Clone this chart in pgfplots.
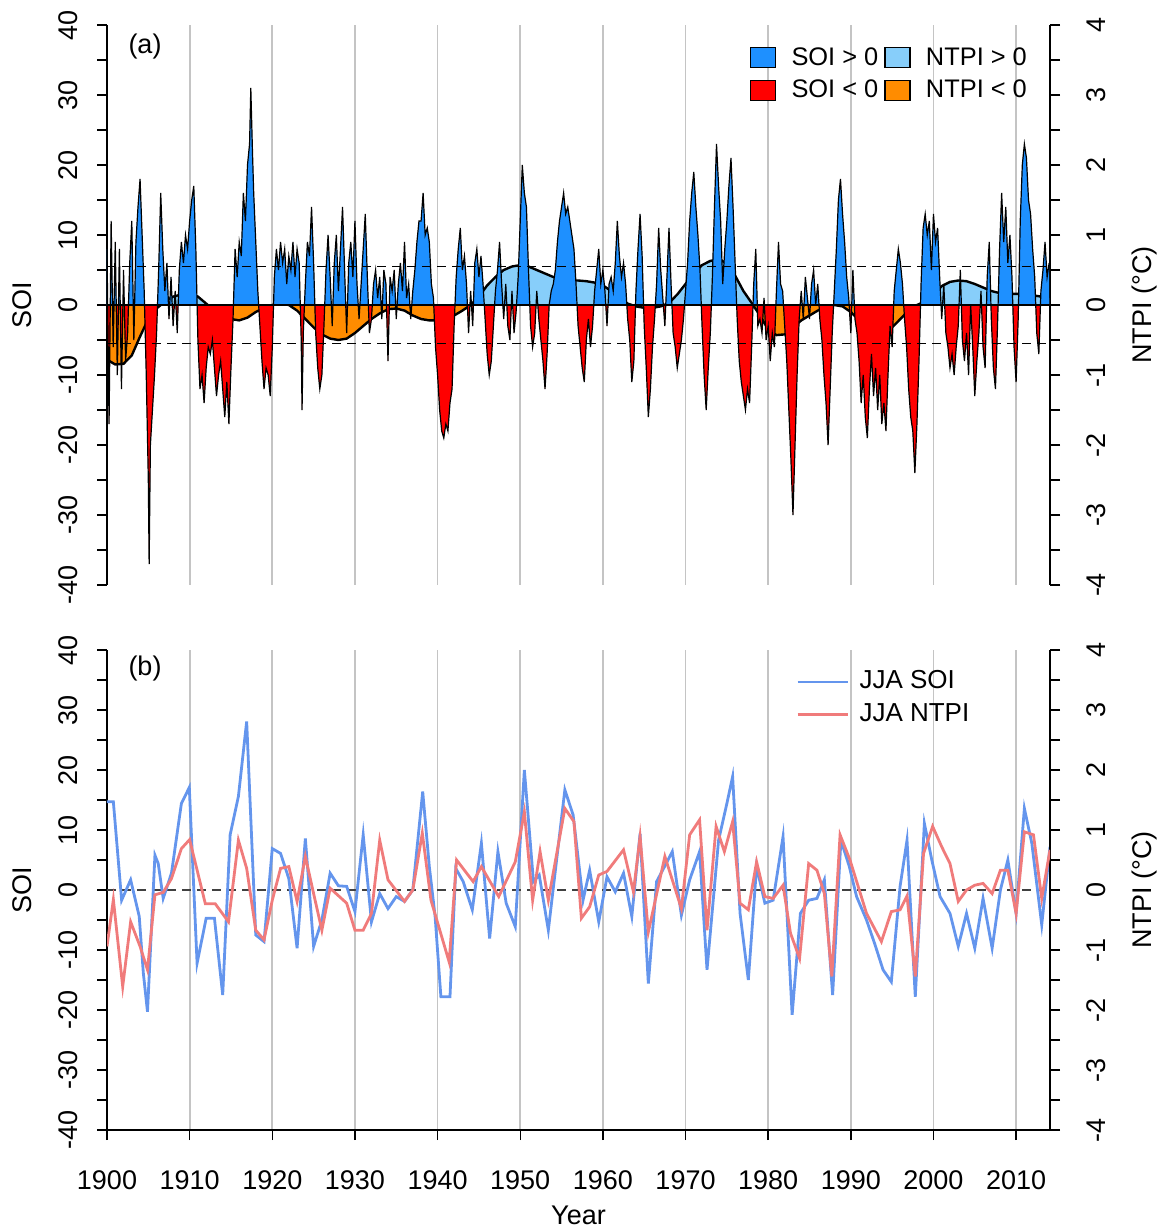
\documentclass[border=0pt]{standalone}
\usepackage{pgfplots}
\pgfplotsset{compat=1.18}
\usepackage{pgfplotstable}
\usepackage{fontspec}
\setmainfont{Liberation Sans}

\definecolor{soipos}{HTML}{1E90FF}
\definecolor{soineg}{HTML}{FF0000}
\definecolor{ntpipos}{HTML}{87CEFA}
\definecolor{ntpineg}{HTML}{FF8C00}
\definecolor{jjasoi}{HTML}{6495ED}
\definecolor{jjantpi}{HTML}{F07B7B}
\definecolor{gridgray}{HTML}{C4C4C4}

\newcommand{\lbl}{\fontsize{13.5}{16}\selectfont}
\newcommand{\leg}{\fontsize{12.7}{15}\selectfont}

% Monthly-resolution SOI (sampled quarterly)
\pgfplotstableread[row sep=\\]{
year soi\\
1900 8\\ 1900.25 -17\\ 1900.5 12\\ 1900.75 -6\\
1901 9\\ 1901.25 -10\\ 1901.5 8\\ 1901.75 -12\\
1902 5\\ 1902.25 -8\\ 1902.5 -4\\ 1902.75 6\\
1903 12\\ 1903.25 -5\\ 1903.5 9\\ 1903.75 14\\
1904 18\\ 1904.25 10\\ 1904.5 2\\ 1904.75 -10\\
1905 -25\\ 1905.1 -37\\ 1905.25 -20\\ 1905.5 -15\\ 1905.75 -10\\
1906 -4\\ 1906.25 5\\ 1906.5 16\\ 1906.75 8\\
1907 2\\ 1907.25 6\\ 1907.5 -2\\ 1907.75 4\\
1908 -3\\ 1908.25 2\\ 1908.5 -4\\ 1908.75 5\\
1909 9\\ 1909.25 6\\ 1909.5 10\\ 1909.75 8\\
1910 12\\ 1910.25 15\\ 1910.5 17\\ 1910.75 8\\
1911 -5\\ 1911.25 -12\\ 1911.5 -10\\ 1911.75 -14\\
1912 -9\\ 1912.25 -6\\ 1912.5 -7\\ 1912.75 -5\\
1913 -9\\ 1913.25 -13\\ 1913.5 -10\\ 1913.75 -8\\
1914 -12\\ 1914.25 -16\\ 1914.5 -11\\ 1914.75 -17\\
1915 -9\\ 1915.25 -2\\ 1915.5 8\\ 1915.75 4\\
1916 9\\ 1916.25 7\\ 1916.5 16\\ 1916.75 12\\
1917 20\\ 1917.25 23\\ 1917.4 31\\ 1917.6 22\\ 1917.75 16\\
1918 9\\ 1918.25 2\\ 1918.5 -3\\ 1918.75 -8\\
1919 -12\\ 1919.25 -9\\ 1919.5 -10\\ 1919.75 -13\\
1920 -6\\ 1920.25 4\\ 1920.5 8\\ 1920.75 5\\
1921 9\\ 1921.25 6\\ 1921.5 8\\ 1921.75 3\\
1922 7\\ 1922.25 5\\ 1922.5 9\\ 1922.75 4\\
1923 8\\ 1923.25 6\\ 1923.5 -5\\ 1923.6 -15\\ 1923.75 -4\\
1924 3\\ 1924.25 9\\ 1924.5 7\\ 1924.75 14\\
1925 6\\ 1925.25 -4\\ 1925.5 -9\\ 1925.75 -12\\
1926 -10\\ 1926.25 -3\\ 1926.5 5\\ 1926.75 10\\
1927 4\\ 1927.25 -3\\ 1927.5 6\\ 1927.75 10\\
1928 2\\ 1928.25 8\\ 1928.5 14\\ 1928.75 5\\
1929 -4\\ 1929.25 6\\ 1929.5 9\\ 1929.75 4\\
1930 12\\ 1930.25 3\\ 1930.5 -2\\ 1930.75 3\\
1931 8\\ 1931.25 13\\ 1931.5 4\\ 1931.75 -4\\
1932 -2\\ 1932.25 3\\ 1932.5 5\\ 1932.75 1\\
1933 4\\ 1933.25 -2\\ 1933.5 5\\ 1933.75 3\\
1934 -8\\ 1934.25 4\\ 1934.5 2\\ 1934.75 5\\
1935 -2\\ 1935.25 3\\ 1935.5 6\\ 1935.75 2\\
1936 9\\ 1936.25 1\\ 1936.5 3\\ 1936.75 -2\\
1937 2\\ 1937.25 5\\ 1937.5 9\\ 1937.75 12\\
1938 12\\ 1938.25 16\\ 1938.5 10\\ 1938.75 11\\
1939 9\\ 1939.25 3\\ 1939.5 1\\ 1939.75 -6\\
1940 -10\\ 1940.25 -15\\ 1940.5 -18\\ 1940.75 -19\\
1941 -17\\ 1941.25 -18\\ 1941.5 -14\\ 1941.75 -12\\
1942 -3\\ 1942.25 4\\ 1942.5 8\\ 1942.75 11\\
1943 5\\ 1943.25 7\\ 1943.5 3\\ 1943.75 -4\\
1944 2\\ 1944.25 -3\\ 1944.5 6\\ 1944.75 8\\
1945 4\\ 1945.25 7\\ 1945.5 3\\ 1945.75 -2\\
1946 -7\\ 1946.25 -10\\ 1946.5 -8\\ 1946.75 -3\\
1947 2\\ 1947.25 5\\ 1947.5 9\\ 1947.75 3\\
1948 -2\\ 1948.25 3\\ 1948.5 -3\\ 1948.75 -5\\
1949 2\\ 1949.25 -4\\ 1949.5 -1\\ 1949.75 4\\
1950 12\\ 1950.25 20\\ 1950.5 16\\ 1950.75 14\\
1951 5\\ 1951.25 -3\\ 1951.5 -6\\ 1951.75 -4\\
1952 2\\ 1952.25 -2\\ 1952.5 -5\\ 1952.75 -8\\
1953 -12\\ 1953.25 -7\\ 1953.5 0\\ 1953.75 2\\
1954 3\\ 1954.25 5\\ 1954.5 9\\ 1954.75 12\\
1955 14\\ 1955.25 16\\ 1955.5 13\\ 1955.75 14\\
1956 12\\ 1956.25 10\\ 1956.5 8\\ 1956.75 3\\
1957 -3\\ 1957.25 -6\\ 1957.5 -9\\ 1957.75 -11\\
1958 -5\\ 1958.25 -2\\ 1958.5 -6\\ 1958.75 -3\\
1959 2\\ 1959.25 5\\ 1959.5 8\\ 1959.75 3\\
1960 5\\ 1960.25 2\\ 1960.5 -3\\ 1960.75 3\\
1961 4\\ 1961.25 2\\ 1961.5 6\\ 1961.75 12\\
1962 7\\ 1962.25 4\\ 1962.5 6\\ 1962.75 3\\
1963 -2\\ 1963.25 -5\\ 1963.5 -11\\ 1963.75 -8\\
1964 2\\ 1964.25 8\\ 1964.5 13\\ 1964.75 7\\
1965 -3\\ 1965.25 -9\\ 1965.5 -16\\ 1965.75 -12\\
1966 -6\\ 1966.25 -2\\ 1966.5 3\\ 1966.75 11\\
1967 5\\ 1967.25 1\\ 1967.5 -3\\ 1967.75 4\\
1968 11\\ 1968.25 3\\ 1968.5 -4\\ 1968.75 -6\\
1969 -9\\ 1969.25 -7\\ 1969.5 -5\\ 1969.75 -2\\
1970 2\\ 1970.25 6\\ 1970.5 12\\ 1970.75 16\\
1971 19\\ 1971.25 14\\ 1971.5 10\\ 1971.75 5\\
1972 -3\\ 1972.25 -10\\ 1972.5 -15\\ 1972.75 -9\\
1973 -4\\ 1973.25 4\\ 1973.5 14\\ 1973.75 23\\
1974 17\\ 1974.25 12\\ 1974.5 3\\ 1974.75 8\\
1975 12\\ 1975.25 17\\ 1975.5 21\\ 1975.75 14\\
1976 6\\ 1976.25 -2\\ 1976.5 -8\\ 1976.75 -11\\
1977 -13\\ 1977.25 -15\\ 1977.5 -12\\ 1977.75 -14\\
1978 -6\\ 1978.25 3\\ 1978.5 8\\ 1978.75 -3\\
1979 -2\\ 1979.25 -4\\ 1979.5 1\\ 1979.75 -5\\
1980 -3\\ 1980.25 -8\\ 1980.5 -4\\ 1980.75 -6\\
1981 2\\ 1981.25 9\\ 1981.5 3\\ 1981.75 2\\
1982 -3\\ 1982.25 -8\\ 1982.5 -15\\ 1982.75 -22\\
1983 -30\\ 1983.25 -20\\ 1983.5 -10\\ 1983.75 -2\\
1984 2\\ 1984.25 -2\\ 1984.5 4\\ 1984.75 1\\
1985 -2\\ 1985.25 3\\ 1985.5 5\\ 1985.75 0\\
1986 3\\ 1986.25 -2\\ 1986.5 -5\\ 1986.75 -10\\
1987 -14\\ 1987.25 -20\\ 1987.5 -12\\ 1987.75 -4\\
1988 2\\ 1988.25 8\\ 1988.5 15\\ 1988.75 18\\
1989 13\\ 1989.25 9\\ 1989.5 4\\ 1989.75 1\\
1990 -4\\ 1990.25 5\\ 1990.5 -2\\ 1990.75 -4\\
1991 -8\\ 1991.25 -14\\ 1991.5 -10\\ 1991.75 -16\\
1992 -19\\ 1992.25 -12\\ 1992.5 -7\\ 1992.75 -13\\
1993 -9\\ 1993.25 -15\\ 1993.5 -10\\ 1993.75 -17\\
1994 -14\\ 1994.25 -18\\ 1994.5 -10\\ 1994.75 -3\\
1995 -6\\ 1995.25 2\\ 1995.5 5\\ 1995.75 8\\
1996 6\\ 1996.25 3\\ 1996.5 -2\\ 1996.75 -6\\
1997 -12\\ 1997.25 -16\\ 1997.5 -18\\ 1997.75 -24\\
1998 -17\\ 1998.25 -8\\ 1998.5 3\\ 1998.75 11\\
1999 13\\ 1999.25 10\\ 1999.5 12\\ 1999.75 5\\
2000 13\\ 2000.25 9\\ 2000.5 11\\ 2000.75 4\\
2001 -2\\ 2001.25 3\\ 2001.5 -4\\ 2001.75 -6\\
2002 -9\\ 2002.25 -7\\ 2002.5 -10\\ 2002.75 -6\\
2003 -3\\ 2003.25 5\\ 2003.5 -5\\ 2003.75 -8\\
2004 -4\\ 2004.25 -10\\ 2004.5 0\\ 2004.75 -6\\
2005 -13\\ 2005.25 -8\\ 2005.5 -4\\ 2005.75 2\\
2006 -6\\ 2006.25 -9\\ 2006.5 4\\ 2006.75 9\\
2007 -2\\ 2007.25 -9\\ 2007.5 -12\\ 2007.75 -3\\
2008 8\\ 2008.25 16\\ 2008.5 9\\ 2008.75 14\\
2009 6\\ 2009.25 10\\ 2009.5 4\\ 2009.75 -6\\
2010 -11\\ 2010.25 -2\\ 2010.5 12\\ 2010.75 20\\
2011 23\\ 2011.25 21\\ 2011.5 15\\ 2011.75 13\\
2012 8\\ 2012.25 4\\ 2012.5 -4\\ 2012.75 -7\\
2013 2\\ 2013.25 5\\ 2013.5 9\\ 2013.75 4\\
2014 6\\
}\soimonthly

% Low-pass filtered NTPI (degC)
\pgfplotstableread[row sep=\\]{
year ntpi\\
1900 -0.78\\ 1901 -0.85\\ 1902 -0.84\\ 1903 -0.72\\ 1904 -0.45\\
1905 -0.2\\ 1906 -0.05\\ 1907 0.05\\ 1908 0.12\\ 1909 0.15\\
1910 0.16\\ 1911 0.12\\ 1912 0.02\\ 1913 -0.08\\ 1914 -0.15\\
1915 -0.2\\ 1916 -0.22\\ 1917 -0.18\\ 1918 -0.1\\ 1919 -0.04\\
1920 0.0\\ 1921 0.02\\ 1922 0.0\\ 1923 -0.08\\ 1924 -0.2\\
1925 -0.32\\ 1926 -0.42\\ 1927 -0.48\\ 1928 -0.5\\ 1929 -0.48\\
1930 -0.4\\ 1931 -0.3\\ 1932 -0.2\\ 1933 -0.12\\ 1934 -0.06\\
1935 -0.05\\ 1936 -0.08\\ 1937 -0.15\\ 1938 -0.2\\ 1939 -0.22\\
1940 -0.22\\ 1941 -0.2\\ 1942 -0.15\\ 1943 -0.08\\ 1944 0.0\\
1945 0.12\\ 1946 0.28\\ 1947 0.4\\ 1948 0.5\\ 1949 0.55\\
1950 0.57\\ 1951 0.55\\ 1952 0.5\\ 1953 0.45\\ 1954 0.4\\
1955 0.37\\ 1956 0.35\\ 1957 0.35\\ 1958 0.34\\ 1959 0.32\\
1960 0.28\\ 1961 0.2\\ 1962 0.1\\ 1963 0.02\\ 1964 -0.02\\
1965 -0.04\\ 1966 -0.04\\ 1967 -0.02\\ 1968 0.03\\ 1969 0.15\\
1970 0.3\\ 1971 0.45\\ 1972 0.57\\ 1973 0.63\\ 1974 0.65\\
1975 0.6\\ 1976 0.42\\ 1977 0.2\\ 1978 0.03\\ 1979 -0.15\\
1980 -0.35\\ 1981 -0.43\\ 1982 -0.42\\ 1983 -0.32\\ 1984 -0.22\\
1985 -0.15\\ 1986 -0.08\\ 1987 -0.03\\ 1988 0.0\\ 1989 -0.02\\
1990 -0.1\\ 1991 -0.22\\ 1992 -0.33\\ 1993 -0.4\\ 1994 -0.4\\
1995 -0.32\\ 1996 -0.2\\ 1997 -0.08\\ 1998 0.0\\ 1999 0.05\\
2000 0.15\\ 2001 0.27\\ 2002 0.33\\ 2003 0.35\\ 2004 0.34\\
2005 0.3\\ 2006 0.25\\ 2007 0.2\\ 2008 0.17\\ 2009 0.16\\
2010 0.16\\ 2011 0.15\\ 2012 0.14\\ 2013 0.12\\ 2014 0.1\\
}\ntpismooth

% June-August means
\pgfplotstableread[row sep=\\]{
year soi\\
1900 14.7\\ 1900.77 14.7\\ 1901.77 -1.7\\ 1902.86 1.7\\ 1903.9 -4.4\\
1904.4 -13.9\\ 1904.9 -20.3\\ 1905.8 5.8\\ 1906.2 4.4\\ 1906.8 -1.4\\
1907.8 2.8\\ 1909.0 14.4\\ 1909.96 17.1\\ 1910.9 -12.2\\ 1912.0 -4.7\\
1913.0 -4.7\\ 1914.0 -17.5\\ 1914.9 9.2\\ 1915.9 15.6\\ 1916.9 28.1\\
1918.0 -7.5\\ 1919.0 -8.6\\ 1920.0 6.9\\ 1921.0 6.1\\ 1922.0 1.9\\
1923.0 -9.7\\ 1924.0 8.6\\ 1925.0 -9.4\\ 1926.0 -5\\ 1927.0 2.8\\
1928.0 0.7\\ 1929.0 0.6\\ 1930.0 -3.6\\ 1931.0 9.2\\ 1932.0 -5.3\\
1933.0 -0.6\\ 1934.0 -3.1\\ 1935.0 -1.1\\ 1936.0 -1.9\\ 1937.0 0\\
1938.2 16.4\\ 1939.0 3.9\\ 1939.7 -4.4\\ 1940.4 -17.8\\ 1941.5 -17.8\\
1942.2 3.6\\ 1943.1 1.4\\ 1944.2 -3.3\\ 1945.3 7.8\\ 1946.3 -8.1\\
1947.3 6.4\\ 1948.3 -2.2\\ 1949.4 -6.1\\ 1950.5 20\\ 1950.9 13.3\\
1951.6 1.4\\ 1952.3 2.5\\ 1953.4 -6.7\\ 1955.4 16.7\\ 1956.4 12.5\\
1957.6 -1.7\\ 1958.4 3.3\\ 1959.5 -5.3\\ 1960.5 2.2\\ 1961.5 -0.3\\
1962.5 2.8\\ 1963.5 -4.4\\ 1964.5 9.4\\ 1965.5 -15.6\\ 1966.5 1.4\\
1967.5 4\\ 1968.4 6.4\\ 1969.5 -4.2\\ 1970.5 1.7\\ 1971.7 6.4\\
1972.6 -13.3\\ 1974.0 8.3\\ 1975.0 14.4\\ 1975.7 18.9\\ 1976.6 -3.9\\
1977.6 -15\\ 1978.6 3.9\\ 1979.6 -2.2\\ 1980.6 -1.7\\ 1981.8 8.9\\
1982.9 -20.8\\ 1983.9 -3.9\\ 1984.9 -1.7\\ 1985.9 -1.4\\ 1986.8 1.7\\
1987.8 -17.5\\ 1988.8 8.3\\ 1989.8 4\\ 1990.7 -1.1\\ 1991.9 -5\\
1992.9 -9\\ 1993.9 -13.3\\ 1994.9 -15.3\\ 1995.96 0.6\\ 1996.8 8.3\\
1997.8 -17.8\\ 1998.9 11.1\\ 1999.8 5\\ 2000.8 -1.1\\ 2002.0 -3.9\\
2003.0 -9.4\\ 2004.0 -3.9\\ 2005.0 -9.7\\ 2006.0 -1.4\\ 2007.1 -9.7\\
2008.1 0\\ 2009.0 5\\ 2010.0 -3.9\\ 2011.0 13.6\\ 2011.9 7.8\\
2013.1 -5.8\\ 2014.1 7.2\\
}\jjasoitab

\pgfplotstableread[row sep=\\]{
year ntpi\\
1900 -0.94\\ 1900.77 -0.16\\ 1901.9 -1.61\\ 1902.86 -0.53\\ 1904.0 -0.94\\
1904.9 -1.33\\ 1905.8 -0.08\\ 1906.8 -0.04\\ 1907.8 0.19\\ 1909.0 0.69\\
1910.0 0.84\\ 1911.9 -0.23\\ 1913.1 -0.23\\ 1914.7 -0.53\\ 1915.9 0.83\\
1916.9 0.36\\ 1918.0 -0.67\\ 1919.0 -0.83\\ 1920.0 -0.17\\ 1921.0 0.36\\
1922.0 0.39\\ 1923.0 -0.19\\ 1924.0 0.56\\ 1925.0 -0.06\\ 1926.0 -0.67\\
1927.0 0.03\\ 1929.0 -0.22\\ 1930.0 -0.67\\ 1931.0 -0.67\\ 1932.0 -0.39\\
1933.0 0.83\\ 1934.0 0.17\\ 1936.0 -0.19\\ 1937.0 0.0\\ 1938.15 0.95\\
1939.2 -0.17\\ 1941.4 -1.2\\ 1942.3 0.5\\ 1944.3 0.14\\ 1945.3 0.39\\
1947.4 -0.11\\ 1949.4 0.47\\ 1950.5 1.3\\ 1951.5 -0.17\\ 1952.4 0.64\\
1953.4 -0.17\\ 1955.4 1.36\\ 1956.5 1.14\\ 1957.4 -0.47\\ 1958.4 -0.28\\
1959.5 0.25\\ 1960.5 0.31\\ 1962.5 0.67\\ 1963.7 -0.03\\ 1964.5 0.89\\
1965.5 -0.7\\ 1967.5 0.56\\ 1969.5 -0.31\\ 1970.5 0.92\\ 1971.7 1.17\\
1972.6 -0.67\\ 1973.7 1.06\\ 1974.7 0.64\\ 1975.7 1.14\\ 1976.6 -0.22\\
1977.6 -0.33\\ 1978.6 0.47\\ 1979.6 -0.11\\ 1980.6 -0.14\\ 1981.8 0.08\\
1982.7 -0.72\\ 1983.8 -1.14\\ 1984.9 0.44\\ 1985.9 0.33\\ 1986.8 -0.06\\
1987.7 -1.44\\ 1988.7 0.92\\ 1989.9 0.5\\ 1991.9 -0.39\\ 1993.7 -0.86\\
1994.9 -0.36\\ 1995.96 -0.33\\ 1996.8 -0.1\\ 1997.8 -1.44\\ 1998.8 0.61\\
1999.9 1.06\\ 2001.0 0.72\\ 2002.0 0.44\\ 2003.0 -0.19\\ 2004.0 0.0\\
2005.0 0.08\\ 2006.0 0.11\\ 2007.1 -0.06\\ 2008.1 0.33\\ 2009.0 0.33\\
2010.0 -0.39\\ 2011.0 0.97\\ 2012.1 0.92\\ 2013.1 -0.14\\ 2014.1 0.67\\
}\jjantpitab

\pgfplotsset{
  panel/.style={
    scale only axis, width=471.5pt,
    xmin=1900, xmax=2014.1,
    tick align=outside, major tick length=5pt,
    every tick/.append style={black, line width=0.7pt},
    axis line style={line width=0.7pt},
    tick label style={font=\lbl},
  },
  leftsoi/.style={
    axis y line*=left, ymin=-40, ymax=40,
    ytick={-40,-35,...,40},
    yticklabels={-40,,-30,,-20,,-10,,0,,10,,20,,30,,40},
    yticklabel style={rotate=90, anchor=south},
    yticklabel shift=6pt,
    ylabel={SOI},
    every axis y label/.style={at={(axis description cs:-0.0901,0.5)}, rotate=90, anchor=center, font=\lbl},
  },
  rightntpi/.style={
    axis y line*=right, ymin=-4, ymax=4,
    ytick={-4,-3.5,-3,-2.5,-2,-1.5,-1,-0.5,0,0.5,1,1.5,2,2.5,3,3.5,4},
    yticklabels={-4,,-3,,-2,,-1,,0,,1,,2,,3,,4},
    yticklabel style={rotate=90, anchor=north},
    yticklabel shift=10pt,
    ylabel={NTPI (°C)},
    every axis y label/.style={at={(axis description cs:1.1007,0.5)}, rotate=90, anchor=center, font=\lbl},
  },
  decadegrid/.style={
    xtick={1900,1910,...,2010},
    xmajorgrids,
    major x grid style={gridgray, line width=0.9pt},
  },
  boxlegend/.style={legend image code/.code={%
    \draw[##1, draw=black, line width=0.6pt] (0pt,-5pt) rectangle (12.5pt,5pt);
    \path[draw=none, fill=none] (0pt,0pt) -- (18.5pt,0pt);}},
  linelegend/.style={legend image code/.code={%
    \draw[##1] (0pt,0pt) -- (25pt,0pt);
    \path[draw=none, fill=none] (0pt,0pt) -- (29pt,0pt);}},
}

\begin{document}
\begin{tikzpicture}
\useasboundingbox (0,0) rectangle (583.5pt,614pt);

% ---------- panel (a): filtered NTPI behind monthly SOI ----------
\begin{axis}[panel, rightntpi, decadegrid,
  at={(53.5pt,321.5pt)}, anchor=south west, height=280pt,
  axis x line*=bottom, x axis line style={draw=none},
  xtick style={draw=none}, xticklabels={},
]
\begin{scope}
  \clip (axis cs:1900,0) rectangle (axis cs:2014.1,4);
  \addplot[fill=ntpipos, draw=none, forget plot] table[x=year,y=ntpi]{\ntpismooth} \closedcycle;
\end{scope}
\begin{scope}
  \clip (axis cs:1900,-4) rectangle (axis cs:2014.1,0);
  \addplot[fill=ntpineg, draw=none, forget plot] table[x=year,y=ntpi]{\ntpismooth} \closedcycle;
\end{scope}
\addplot[black, line width=1.2pt, forget plot] table[x=year,y=ntpi]{\ntpismooth};
\end{axis}

\begin{axis}[panel, leftsoi,
  at={(53.5pt,321.5pt)}, anchor=south west, height=280pt,
  hide x axis,
  boxlegend,
  legend columns=2, legend cell align=left,
  legend style={draw=none, fill=none, font=\leg,
    at={(axis description cs:0.675,0.975)}, anchor=north west,
    /tikz/every even column/.append style={column sep=1pt},
    row sep=2pt},
]
\addlegendimage{fill=soipos}\addlegendentry{SOI > 0}
\addlegendimage{fill=ntpipos}\addlegendentry{NTPI > 0}
\addlegendimage{fill=soineg}\addlegendentry{SOI < 0}
\addlegendimage{fill=ntpineg}\addlegendentry{NTPI < 0}
\begin{scope}
  \clip (axis cs:1900,0) rectangle (axis cs:2014.1,40);
  \addplot[fill=soipos, draw=none, forget plot] table[x=year,y=soi]{\soimonthly} \closedcycle;
\end{scope}
\begin{scope}
  \clip (axis cs:1900,-40) rectangle (axis cs:2014.1,0);
  \addplot[fill=soineg, draw=none, forget plot] table[x=year,y=soi]{\soimonthly} \closedcycle;
\end{scope}
\addplot[black, line width=0.6pt, forget plot] table[x=year,y=soi]{\soimonthly};
\addplot[black, line width=0.8pt, forget plot] coordinates {(1900,0) (2014.1,0)};
\addplot[black, line width=0.6pt, dash pattern=on 4.5pt off 3pt, forget plot] coordinates {(1900,5.5) (2014.1,5.5)};
\addplot[black, line width=0.6pt, dash pattern=on 4.5pt off 3pt, forget plot] coordinates {(1900,-5.5) (2014.1,-5.5)};
\node[font=\lbl] at (axis description cs:0.0403,0.961) {(a)};
\end{axis}

% ---------- panel (b): June-August means ----------
\begin{axis}[panel, leftsoi, decadegrid,
  at={(53.5pt,49pt)}, anchor=south west, height=240pt,
  axis x line*=bottom,
  xticklabels={1900,1910,1920,1930,1940,1950,1960,1970,1980,1990,2000,2010},
  xticklabel shift=12pt,
  xlabel={Year},
  every axis x label/.style={at={(axis description cs:0.5,-0.177)}, anchor=center, font=\lbl},
]
\addplot[black!75, line width=0.6pt, dash pattern=on 4.5pt off 3pt, forget plot] coordinates {(1900,0) (2014.1,0)};
\addplot[jjasoi, line width=1.4pt, forget plot] table[x=year,y=soi]{\jjasoitab};
\node[font=\lbl] at (axis description cs:0.0403,0.9625) {(b)};
\end{axis}

\begin{axis}[panel, rightntpi,
  at={(53.5pt,49pt)}, anchor=south west, height=240pt,
  hide x axis,
  linelegend,
  legend cell align=left,
  legend style={draw=none, fill=none, font=\fontsize{13}{15}\selectfont,
    at={(axis description cs:0.724,0.97)}, anchor=north west,
    nodes={text height=1.5ex, text depth=.25ex}, row sep=3pt},
]
\addlegendimage{jjasoi, line width=1.4pt}\addlegendentry{JJA SOI}
\addplot[jjantpi, line width=1.4pt] table[x=year,y=ntpi]{\jjantpitab};
\addlegendentry{JJA NTPI}
\end{axis}
\end{tikzpicture}
\end{document}
